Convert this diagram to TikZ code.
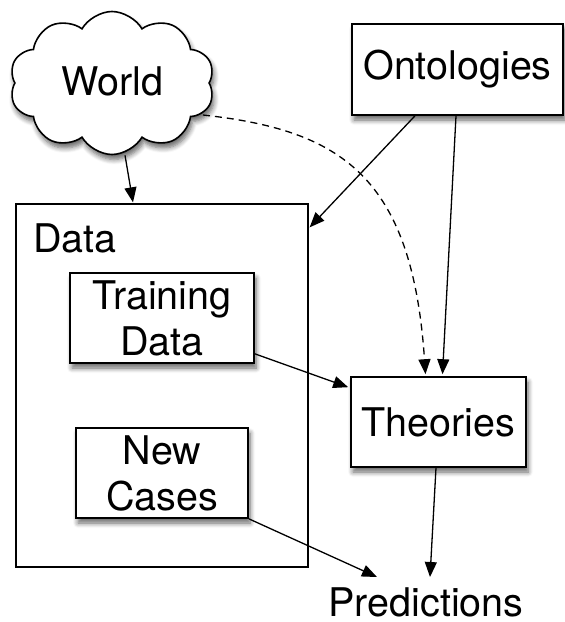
\documentclass[tikz,border=0pt]{standalone}
\usepackage{fontspec}
\setmainfont{TeX Gyre Heros}
\usetikzlibrary{shapes.symbols,arrows.meta,calc,shadows.blur}
\begin{document}
\begin{tikzpicture}[x=1pt,y=-1pt,
  txt/.style={font=\fontsize{39.5}{46}\selectfont, inner sep=0pt},
  shadowed/.style={blur shadow={shadow xshift=2pt, shadow yshift=-5pt, shadow blur steps=6, shadow blur radius=5pt, shadow opacity=60}},
  boxnode/.style={draw, line width=1.6pt, fill=white, shadowed, txt, align=center, inner sep=0pt},
  arr/.style={line width=1.3pt, -{Triangle[length=15pt,width=12pt]}},
]
\useasboundingbox (0,0) rectangle (565,622);
% cloud
\node[cloud, cloud puffs=10, cloud puff arc=120, cloud ignores aspect, draw, line width=1.6pt, fill=white, shadowed,
      minimum width=205pt, minimum height=143pt, txt] (world) at (112,83) {};
\node[txt] (worldlbl) at (112,81) {World};
% boxes
\node[boxnode, minimum width=211pt, minimum height=91pt] (onto) at (457.5,69.5) {Ontologies};
\node[draw, line width=1.3pt, minimum width=292pt, minimum height=363pt, inner sep=0pt] (data) at (162,385.5) {};
\node[txt, anchor=base west] (datalbl) at (33,252) {Data};
\node[boxnode, minimum width=184pt, minimum height=90pt] (train) at (162,318) {Training\\Data};
\node[boxnode, minimum width=172pt, minimum height=90pt] (newc) at (162,473) {New\\Cases};
\node[boxnode, minimum width=175pt, minimum height=90pt] (theo) at (438.5,422) {Theories};
\node[txt, anchor=base] (pred) at (426,616) {Predictions};
% connectors
\draw[arr] ($(world.south)+(13,0)$) -- ($(data.north)+(-29,-1)$);
\draw[arr] ($(onto.south)+(-42.5,0)$) -- ($(data.north east)+(1,24)$);
\draw[arr] ($(onto.south)+(-1.5,0)$) -- ($(theo.north)+(4,-2)$);
\draw[line width=1.3pt, dash pattern=on 7pt off 5pt, -{Triangle[length=15pt,width=12pt]}]
  ($(world.east)+(-7,32)$) .. controls (340,130) and (412,175) .. ($(theo.north)+(-13,-2)$);
\draw[arr] ($(train.south east)+(0,-10)$) -- ($(theo.north west)+(-2,11)$);
\draw[arr] (newc.south east) -- ($(pred.north)+(-49,-10)$);
\draw[arr] ($(theo.south)+(-2.5,0)$) -- ($(pred.north)+(4,-10)$);
\end{tikzpicture}
\end{document}
